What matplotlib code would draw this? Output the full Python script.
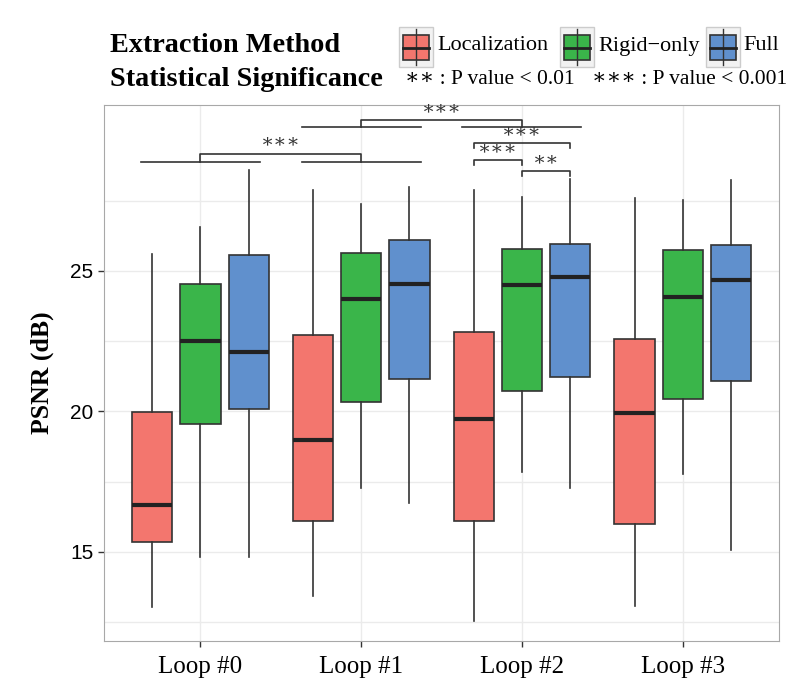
import matplotlib.pyplot as plt
from matplotlib.patches import Rectangle

serif = ['Liberation Serif', 'DejaVu Serif']
sans = ['Liberation Sans', 'DejaVu Sans']

loops = ['Loop #0', 'Loop #1', 'Loop #2', 'Loop #3']
methods = ['Localization', 'Rigid\u2212only', 'Full']
colors = ['#F3766E', '#3AB54A', '#6090CD']

# whisker low, q1, median, q3, whisker high  (one tuple per loop)
localization = [(13.04, 15.35, 16.67, 19.98, 25.60),
                (13.43, 16.10, 18.99, 22.73, 27.88),
                (12.55, 16.09, 19.73, 22.84, 27.88),
                (13.09, 15.99, 19.95, 22.57, 27.59)]
rigid_only = [(14.82, 19.54, 22.50, 24.54, 26.55),
              (17.29, 20.34, 24.00, 25.63, 27.38),
              (17.86, 20.71, 24.49, 25.79, 27.64),
              (17.76, 20.43, 24.07, 25.73, 27.52)]
full = [(14.82, 20.10, 22.11, 25.57, 28.57),
        (16.75, 21.16, 24.52, 26.10, 27.98),
        (17.26, 21.21, 24.78, 25.95, 28.26),
        (15.07, 21.07, 24.69, 25.92, 28.24)]
series = [localization, rigid_only, full]

# significance between loops: (loop a, loop b, bracket top, group line, label)
group_pairs = [(0, 1, 29.17, 28.87, '\u2217\u2217\u2217'),
               (1, 2, 30.36, 30.11, '\u2217\u2217\u2217')]
# significance inside one loop: (loop, method a, method b, bracket top, label)
within_pairs = [(2, 0, 2, 29.53, '\u2217\u2217\u2217'),
                (2, 0, 1, 28.95, '\u2217\u2217\u2217'),
                (2, 1, 2, 28.56, '\u2217\u2217')]

offsets = [-0.3, 0.0, 0.3]
box_w = 0.25

fig = plt.figure(figsize=(8, 6.86), dpi=100)
ax = fig.add_axes([0.13, 0.0656, 0.844, 0.7814])

for k, data in enumerate(series):
    stats = []
    for lo, q1, med, q3, hi in data:
        stats.append(dict(whislo=lo, q1=q1, med=med, q3=q3, whishi=hi, fliers=[]))
    pos = [i + offsets[k] for i in range(len(loops))]
    ax.bxp(stats, positions=pos, widths=box_w, patch_artist=True,
           showcaps=False, showfliers=False,
           boxprops=dict(facecolor=colors[k], edgecolor='#333333', linewidth=1.2),
           whiskerprops=dict(color='#333333', linewidth=1.2),
           medianprops=dict(color='#222222', linewidth=3))

# brackets between loops
for a, b, top, base, lab in group_pairs:
    for g in (a, b):
        ax.plot([g - 0.37, g + 0.37], [base, base], color='#333333', lw=1.2)
    ax.plot([a, a, b, b], [base, top, top, base], color='#333333', lw=1.2)
    ax.text((a + b) / 2, top + 0.1, lab, ha='center', va='bottom',
            fontsize=14, family=['DejaVu Serif'], color='#333333')

# brackets inside Loop #2
for g, m1, m2, top, lab in within_pairs:
    x1, x2 = g + offsets[m1], g + offsets[m2]
    ax.plot([x1, x1, x2, x2], [top - 0.17, top, top, top - 0.17],
            color='#333333', lw=1.2)
    ax.text((x1 + x2) / 2, top + 0.1, lab, ha='center', va='bottom',
            fontsize=14, family=['DejaVu Serif'], color='#333333')

ax.set_xlim(-0.6, 3.6)
ax.set_ylim(11.83, 30.9)
ax.set_xticks(range(len(loops)))
ax.set_xticklabels(loops, fontsize=18, family=serif)
ax.set_yticks([15, 20, 25])
ax.set_yticklabels(['15', '20', '25'], fontsize=15, family=sans)
ax.set_yticks([12.5, 17.5, 22.5, 27.5], minor=True)
ax.tick_params(axis='y', which='minor', length=0)
ax.tick_params(axis='both', which='major', length=4, width=1, color='#333333')
ax.tick_params(axis='x', which='major', pad=7)
ax.grid(True, which='both', axis='y', color='#EBEBEB', lw=1)
ax.grid(True, which='major', axis='x', color='#EBEBEB', lw=1)
ax.set_axisbelow(True)
for s in ax.spines.values():
    s.set_color('#A8A8A8')
ax.set_ylabel('PSNR (dB)', fontsize=18.5, family=serif, fontweight='bold',
              labelpad=12)

# legend drawn on an overlay in pixel units
ov = fig.add_axes([0, 0, 1, 1])
ov.set_xlim(0, 800)
ov.set_ylim(686, 0)
ov.axis('off')
ov.text(110, 46, 'Extraction Method', fontsize=20.3, family=serif,
        fontweight='bold', va='center')
ov.text(110, 80, 'Statistical Significance', fontsize=20.3, family=serif,
        fontweight='bold', va='center')
key_x = [399, 560, 706]
text_x = [437, 598, 743]
for k, name in enumerate(methods):
    x0 = key_x[k]
    ov.add_patch(Rectangle((x0, 27), 34, 40, facecolor='#F2F2F2',
                           edgecolor='#CCCCCC', lw=1))
    ov.plot([x0 + 17, x0 + 17], [29, 65], color='#333333', lw=1)
    ov.add_patch(Rectangle((x0 + 4, 35), 26, 25, facecolor=colors[k],
                           edgecolor='#333333', lw=1.2))
    ov.plot([x0 + 4, x0 + 30], [47.5, 47.5], color='#222222', lw=2)
    ov.text(text_x[k], 46, name, fontsize=16, family=serif, va='center')
ov.text(405, 80, '\u2217\u2217 : P value < 0.01', fontsize=15.5,
        family=serif, va='center')
ov.text(592, 80, '\u2217\u2217\u2217 : P value < 0.001', fontsize=15.5,
        family=serif, va='center')

fig.savefig('out.png', dpi=100)
